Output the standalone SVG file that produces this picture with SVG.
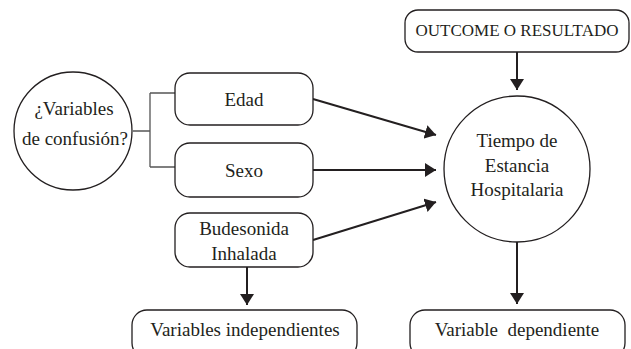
<svg xmlns="http://www.w3.org/2000/svg" width="631" height="349" viewBox="0 0 631 349">
<style>
.box{fill:#fff;stroke:#231f20;stroke-width:1.3}
.t{font-family:'Liberation Serif','Times New Roman',serif;font-size:19px;fill:#231f20;text-anchor:middle}
.o{font-size:17px}
.conn{stroke:#231f20;stroke-width:2;fill:none}
.br{stroke:#555;stroke-width:1.3;fill:none}
</style>
<defs>
<marker id="ah" viewBox="0 0 11 14" refX="11" refY="7" markerWidth="11" markerHeight="14" markerUnits="userSpaceOnUse" orient="auto">
<path d="M0,0 L11,7 L0,14 z" fill="#231f20"/>
</marker>
</defs>
<rect width="631" height="349" fill="#fff"/>
<g id="connectors">
<path class="br" d="M133,131 H150 M150,93 V167 M150,93 H175 M150,167 H175"/>
<line class="conn" x1="313" y1="99" x2="436" y2="135" marker-end="url(#ah)"/>
<line class="conn" x1="313" y1="170" x2="436" y2="170" marker-end="url(#ah)"/>
<line class="conn" x1="313" y1="240" x2="436" y2="202" marker-end="url(#ah)"/>
<line class="conn" x1="517" y1="52" x2="517" y2="90" marker-end="url(#ah)"/>
<line class="conn" x1="517" y1="242" x2="517" y2="304" marker-end="url(#ah)"/>
<line class="conn" x1="247" y1="267" x2="247" y2="305" marker-end="url(#ah)"/>
</g>
<g id="confusion">
<circle class="box" cx="73" cy="131" r="59"/>
<text class="t" x="74" y="115">¿Variables</text>
<text class="t" x="75" y="145">de confusión?</text>
</g>
<g id="edad">
<rect class="box" x="175" y="73" width="138" height="52" rx="15"/>
<text class="t" x="244" y="106">Edad</text>
</g>
<g id="sexo">
<rect class="box" x="175" y="143" width="138" height="54" rx="15"/>
<text class="t" x="244" y="177">Sexo</text>
</g>
<g id="budesonida">
<rect class="box" x="175" y="213" width="138" height="54" rx="15"/>
<text class="t" x="244" y="235">Budesonida</text>
<text class="t" x="244" y="260">Inhalada</text>
</g>
<g id="outcome">
<rect class="box" x="405" y="10" width="224" height="42" rx="13"/>
<text class="t o" x="517" y="36">OUTCOME O RESULTADO</text>
</g>
<g id="tiempo">
<circle class="box" cx="517" cy="169" r="73"/>
<text class="t" x="517" y="147">Tiempo de</text>
<text class="t" x="517" y="172">Estancia</text>
<text class="t" x="517" y="196">Hospitalaria</text>
</g>
<g id="indep">
<rect class="box" x="132" y="310" width="225" height="48" rx="15"/>
<text class="t" x="245" y="336">Variables independientes</text>
</g>
<g id="dep">
<rect class="box" x="410" y="310" width="215" height="48" rx="15"/>
<text class="t" x="517" y="336" xml:space="preserve">Variable  dependiente</text>
</g>
</svg>
